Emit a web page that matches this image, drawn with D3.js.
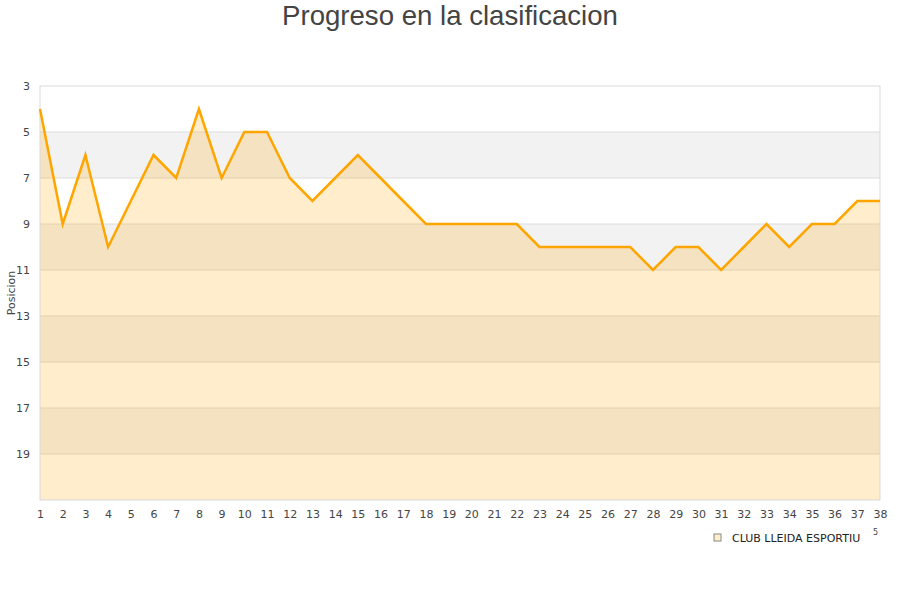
<!DOCTYPE html>
<html>
<head>
<meta charset="utf-8">
<script src="https://cdn.jsdelivr.net/npm/d3@7"></script>
<style>
  body { margin: 0; background: #fff; }
  text { font-family: "DejaVu Sans", sans-serif; }
</style>
</head>
<body>
<div id="chart"></div>
<script>
// Data
const jornadas = d3.range(1, 39);
const posiciones = [4, 9, 6, 10, 8, 6, 7, 4, 7, 5, 5, 7, 8, 7, 6, 7, 8, 9, 9, 9,
                    9, 9, 10, 10, 10, 10, 10, 11, 10, 10, 11, 10, 9, 10, 9, 9, 8, 8];
const yTicks = [3, 5, 7, 9, 11, 13, 15, 17, 19];
const bandas = [[5, 7], [9, 11], [13, 15], [17, 19]];
const equipo = "CLUB LLEIDA ESPORTIU";

const totalWidth = 900;
const totalHeight = 600;
const margin = { top: 86, right: 20, bottom: 100, left: 40 };
const width = totalWidth - margin.left - margin.right;
const height = totalHeight - margin.top - margin.bottom;

const data = jornadas.map((j, i) => ({ jornada: j, pos: posiciones[i] }));

const svg = d3.select('#chart')
    .append('svg')
    .attr('width', totalWidth)
    .attr('height', totalHeight);

svg.append('text')
    .attr('x', totalWidth / 2)
    .attr('y', 25)
    .attr('text-anchor', 'middle')
    .style('font-family', '"Liberation Sans", Arial, sans-serif')
    .style('font-size', '27.6px')
    .attr('fill', '#444')
    .text('Progreso en la clasificacion');

const g = svg.append('g')
    .attr('transform', `translate(${margin.left},${margin.top})`);

const xScale = d3.scalePoint()
    .domain(jornadas)
    .range([0, width]);

const yScale = d3.scaleLinear()
    .domain([3, 21])
    .range([0, height]);

// Alternating bands
g.selectAll('.banda')
    .data(bandas)
    .enter().append('rect')
    .attr('class', 'banda')
    .attr('x', 0)
    .attr('width', width)
    .attr('y', d => yScale(d[0]))
    .attr('height', d => yScale(d[1]) - yScale(d[0]))
    .attr('fill', '#f2f2f2');

// Grid lines
g.selectAll('.grid')
    .data(yTicks.slice(1))
    .enter().append('line')
    .attr('class', 'grid')
    .attr('x1', 0)
    .attr('x2', width)
    .attr('y1', d => yScale(d))
    .attr('y2', d => yScale(d))
    .attr('stroke', '#dcdcdc')
    .attr('stroke-width', 1);

// Area under line
g.append('path')
    .datum(data)
    .attr('fill', 'orange')
    .attr('fill-opacity', 0.2)
    .attr('d', d3.area()
        .x(d => xScale(d.jornada))
        .y0(height)
        .y1(d => yScale(d.pos)));

// Plot border
g.append('rect')
    .attr('x', 0)
    .attr('y', 0)
    .attr('width', width)
    .attr('height', height)
    .attr('fill', 'none')
    .attr('stroke', '#d9d9d9')
    .attr('stroke-width', 1);

// Line
g.append('path')
    .datum(data)
    .attr('fill', 'none')
    .attr('stroke', '#ffa500')
    .attr('stroke-width', 2.5)
    .attr('d', d3.line()
        .x(d => xScale(d.jornada))
        .y(d => yScale(d.pos)));

// Y axis
const yAxis = g.append('g')
    .call(d3.axisLeft(yScale).tickValues(yTicks).tickSize(0).tickPadding(10));
yAxis.select('.domain').remove();
yAxis.selectAll('text')
    .style('font-size', '11px')
    .attr('fill', '#444');

// X axis
const xAxis = g.append('g')
    .attr('transform', `translate(0,${height})`)
    .call(d3.axisBottom(xScale).tickSize(0).tickPadding(10));
xAxis.select('.domain').remove();
xAxis.selectAll('text')
    .style('font-size', '11px')
    .attr('fill', '#444');

// Y label
svg.append('text')
    .attr('transform', 'rotate(-90)')
    .attr('x', -(margin.top + yScale(12)))
    .attr('y', 15)
    .attr('text-anchor', 'middle')
    .style('font-size', '11px')
    .attr('fill', '#444')
    .text('Posicion');

// Legend
const legend = svg.append('g')
    .attr('transform', 'translate(714,534)');
legend.append('rect')
    .attr('width', 7)
    .attr('height', 7)
    .attr('fill', '#ffedcc')
    .attr('stroke', '#888')
    .attr('stroke-width', 1);
legend.append('text')
    .attr('x', 18)
    .attr('y', 8)
    .style('font-size', '11px')
    .attr('fill', '#222')
    .text(equipo);
legend.append('text')
    .attr('x', 159)
    .attr('y', 1)
    .style('font-size', '8px')
    .attr('fill', '#444')
    .text('5');
</script>
</body>
</html>
